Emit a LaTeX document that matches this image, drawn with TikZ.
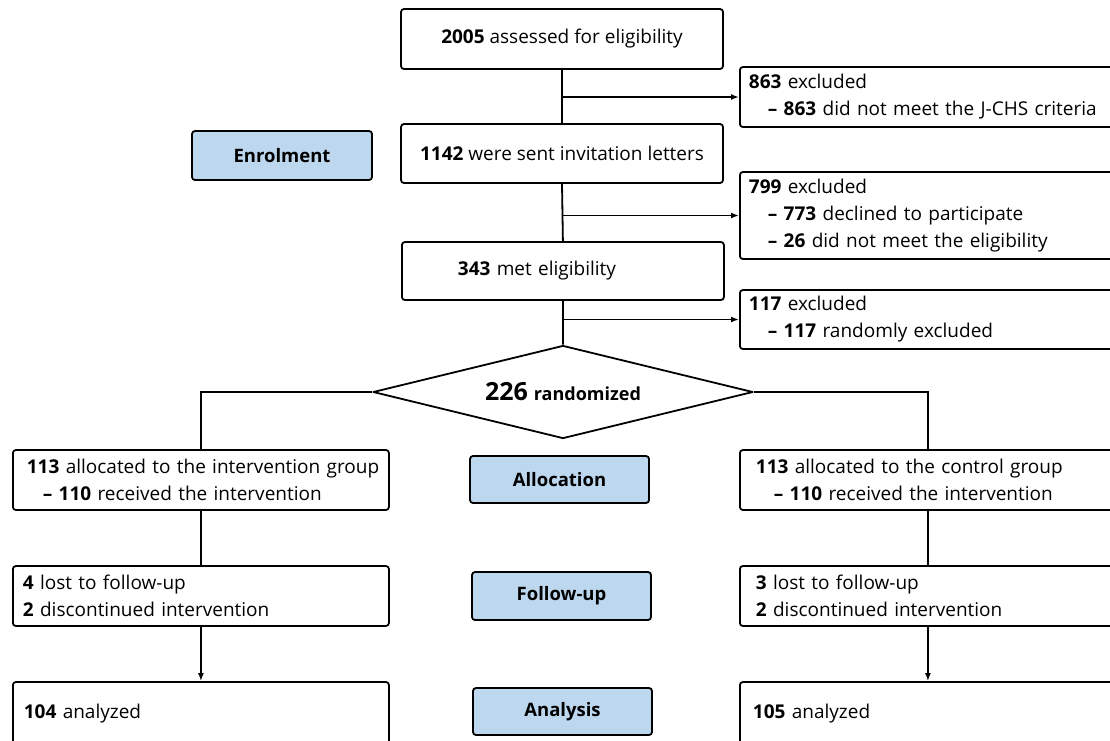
\documentclass[tikz,border=0pt]{standalone}
\usepackage{fontspec}
\setmainfont{Open Sans}
\usetikzlibrary{shapes.geometric,arrows.meta}
\definecolor{lblue}{HTML}{BDD7EE}
\begin{document}
\begin{tikzpicture}[x=1pt,y=-1pt,
  every node/.style={inner sep=0pt},
  box/.style={draw, line width=1.8pt, rounded corners=3pt, font=\fontsize{19}{27}\selectfont},
  tb/.style 2 args={box, text width=#1, inner xsep=#2, align=left, anchor=west},
  stage/.style={draw, line width=1.8pt, rounded corners=3pt, fill=lblue, minimum width=179pt, minimum height=48pt, font=\bfseries\fontsize{18.5}{20}\selectfont},
  line/.style={line width=1.8pt},
  arr/.style={line, -{Latex[length=8pt,width=6pt]}}
]
\useasboundingbox (0,0) rectangle (1110,740);
\clip (0,0) rectangle (1110,740);

% main column
\node[box, minimum width=322pt, minimum height=60pt, align=center] (a) at (562,39) {\textbf{2005} assessed for eligibility};
\node[box, minimum width=322pt, minimum height=59pt, align=center] (b) at (562,153.5) {\textbf{1142} were sent invitation letters};
\node[tb={210pt}{56pt}, minimum height=58pt] (c) at (401,271) {\mbox{\textbf{343} met eligibility}};

% exclusion boxes
\node[tb={372pt}{9pt}, minimum height=60pt] (e1) at (739,97) {\mbox{\textbf{863} excluded}\\\mbox{\hspace*{19pt}\textbf{– 863} did not meet the J-CHS criteria}};
\node[tb={372pt}{9pt}, minimum height=87pt] (e2) at (739,215.5) {\mbox{\textbf{799} excluded}\\\mbox{\hspace*{19pt}\textbf{– 773} declined to participate}\\\mbox{\hspace*{19pt}\textbf{– 26} did not meet the eligibility}};
\node[tb={372pt}{9pt}, minimum height=59pt] (e3) at (739,319.5) {\mbox{\textbf{117} excluded}\\\mbox{\hspace*{19pt}\textbf{– 117} randomly excluded}};

% diamond
\node[draw, diamond, line width=1.8pt, line join=round, minimum width=380pt, minimum height=93pt, aspect=4] (d) at (563,392)
  {\bfseries\fontsize{25}{25}\selectfont 226\hspace{6pt}\fontsize{18}{18}\selectfont randomized};

% stage labels
\node[stage, minimum width=180pt, minimum height=49pt] (enr) at (282,155.5) {Enrolment};
\node[stage, minimum height=47pt] (alc) at (559.5,479.5) {Allocation};
\node[stage] (fol) at (561.5,596) {Follow-up};
\node[stage, minimum height=47pt] (ana) at (562.5,711.5) {Analysis};

% left arm
\node[tb={348pt}{14pt}, minimum height=60pt] (L1) at (12,480) {\mbox{\textbf{113} allocated to the intervention group}\\\mbox{\hspace*{16pt}\textbf{– 110} received the intervention}};
\node[tb={356pt}{10pt}, minimum height=60pt] (L2) at (12,596) {\mbox{\textbf{4} lost to follow-up}\\\mbox{\textbf{2} discontinued intervention}};
\node[tb={354pt}{11pt}, minimum height=64pt] (L3) at (12,714) {\mbox{\textbf{104} analyzed}};

% right arm
\node[tb={344pt}{16pt}, minimum height=60pt] (R1) at (739,480) {\mbox{\textbf{113} allocated to the control group}\\\mbox{\hspace*{18pt}\textbf{– 110} received the intervention}};
\node[tb={344pt}{16pt}, minimum height=60pt] (R2) at (739,596) {\mbox{\textbf{3} lost to follow-up}\\\mbox{\textbf{2} discontinued intervention}};
\node[tb={350pt}{13pt}, minimum height=64pt] (R3) at (739,714) {\mbox{\textbf{105} analyzed}};

% connectors
\draw[line] (a.south) -- (b.north);
\draw[line] (b.south) -- (c.south |- c.north);
\draw[line] (c.south) -- (d.north);
\coordinate (j1) at (a.south |- e1.west);
\coordinate (j2) at (b.south |- e2.west);
\coordinate (j3) at (c.south |- e3.west);
\draw[arr] (j1) -- (e1.west);
\draw[arr] (j2) -- (e2.west);
\draw[arr] (j3) -- (e3.west);
\draw[line] (d.west) -| (L1.north);
\draw[line] (d.east) -| (R1.north);
\draw[line] (L1.south) -- (L2.north);
\draw[arr] (L2.south) -- (L3.north);
\draw[line] (R1.south) -- (R2.north);
\draw[arr] (R2.south) -- (R3.north);
\end{tikzpicture}
\end{document}
